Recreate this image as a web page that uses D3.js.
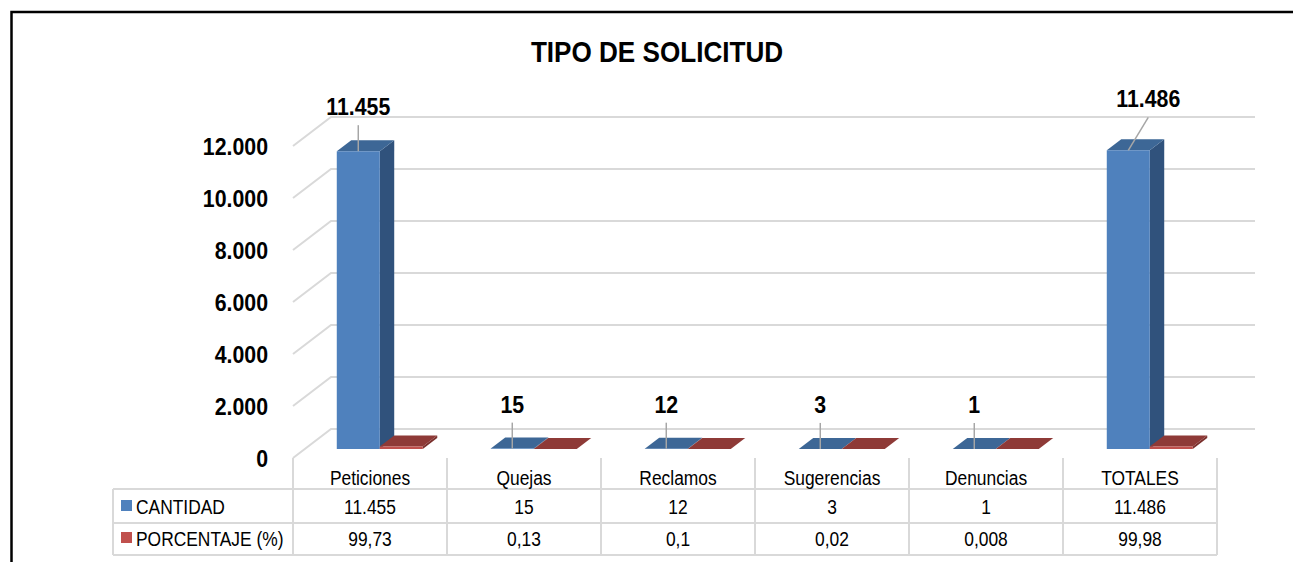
<!DOCTYPE html>
<html>
<head>
<meta charset="utf-8">
<script src="https://cdn.jsdelivr.net/npm/d3@7/dist/d3.min.js"></script>
<style>
  html, body { margin: 0; padding: 0; background: #fff; }
  svg { display: block; }
</style>
</head>
<body>
<div id="chart"></div>
<script>
/*
 * TIPO DE SOLICITUD — 3D clustered column chart with data table below.
 * Series: CANTIDAD (count) and PORCENTAJE (%) per request type.
 */

const TITLE = 'TIPO DE SOLICITUD';
const categories = ['Peticiones', 'Quejas', 'Reclamos', 'Sugerencias', 'Denuncias', 'TOTALES'];
const seriesNames = ['CANTIDAD', 'PORCENTAJE (%)'];
const cantidad = [11455, 15, 12, 3, 1, 11486];
const porcentaje = [99.73, 0.13, 0.1, 0.02, 0.008, 99.98];
const yTicks = [0, 2000, 4000, 6000, 8000, 10000, 12000];

const W = 1293, H = 562;
const FONT = '"Liberation Sans", Arial, sans-serif';
const NARROW = 0.87;   // horizontal squeeze to mimic Arial Narrow

// 3D projection: depth z in [0,1] shifts right/up
const DX = 38, DY = 29;
const Y0 = 458;              // screen y of value 0 on the front plane
const Z1 = 0.31, Z2 = 0.69;  // bar depth range

const palette = {
  CANTIDAD: { front: '#4F81BD', top: '#3D6796', side: '#30527C' },
  'PORCENTAJE (%)': { front: '#C0504D', top: '#8E3A37', side: '#7A302D' },
};

const svg = d3.select('#chart').append('svg')
  .attr('width', W).attr('height', H)
  .attr('viewBox', `0 0 ${W} ${H}`);

// narrow text helper: positioned by transform so the squeeze keeps the anchor
function ntext(parent, x, y, t, size, opts = {}) {
  return parent.append('text')
    .attr('transform', `translate(${x},${y}) scale(${NARROW},1)`)
    .attr('text-anchor', opts.anchor || 'middle')
    .attr('dy', opts.dy || null)
    .attr('font-family', FONT)
    .attr('font-weight', opts.bold ? 700 : 400)
    .attr('font-size', size)
    .attr('fill', '#000')
    .text(t);
}

// Outer frame (runs off the right and bottom edges)
svg.append('rect')
  .attr('x', 11.5).attr('y', 12).attr('width', 1400).attr('height', 700)
  .attr('fill', 'none').attr('stroke', '#000').attr('stroke-width', 2.5);

ntext(svg, 657, 62, TITLE, 30, { bold: true });

const x = d3.scaleBand().domain(categories).range([293, 1217]);
const xSub = d3.scaleBand().domain(seriesNames).range([32, 118]);
const y = d3.scaleLinear().domain([0, 12000]).range([0, 312]);

const proj = (xw, v, z) => [xw + z * DX, Y0 - y(v) - z * DY];
const poly = pts => 'M' + pts.map(p => p.join(',')).join('L') + 'Z';

const grid = svg.append('g');
const x0w = x.range()[0], x1w = x.range()[1];

// Back wall and side wall gridlines
yTicks.forEach(v => {
  const a = proj(x0w, v, 0), b = proj(x0w, v, 1), c = proj(x1w, v, 1);
  grid.append('path')
    .attr('d', `M${a}L${b}L${c}`)
    .attr('fill', 'none').attr('stroke', '#D9D9D9').attr('stroke-width', 2);
});

// Y-axis labels
const fmt = d3.formatLocale({ decimal: ',', thousands: '.', grouping: [3], currency: ['', ''] }).format(',d');
const yAxisG = svg.append('g');
yTicks.forEach(v => {
  ntext(yAxisG, 268, proj(0, v, 0)[1], fmt(v), 24.5, { bold: true, anchor: 'end', dy: '0.36em' });
});

// Bars
const bars = svg.append('g');
const rows = categories.map((c, i) => ({ c, vals: [cantidad[i], porcentaje[i]] }));
rows.forEach(r => {
  r.vals.forEach((v, k) => {
    const s = seriesNames[k];
    const xa = x(r.c) + xSub(s), xb = xa + xSub.bandwidth();
    const col = palette[s];
    bars.append('path')
      .attr('d', poly([proj(xb, 0, Z1), proj(xb, 0, Z2), proj(xb, v, Z2), proj(xb, v, Z1)]))
      .attr('fill', col.side);
    bars.append('path')
      .attr('d', poly([proj(xa, v, Z1), proj(xb, v, Z1), proj(xb, v, Z2), proj(xa, v, Z2)]))
      .attr('fill', col.top);
    bars.append('path')
      .attr('d', poly([proj(xa, 0, Z1), proj(xb, 0, Z1), proj(xb, v, Z1), proj(xa, v, Z1)]))
      .attr('fill', col.front);
  });
});

// Data labels (CANTIDAD) with leader lines
const labelNudge = { TOTALES: [20, -7] };
const labels = svg.append('g');
rows.forEach(r => {
  const v = r.vals[0];
  const xa = x(r.c) + xSub('CANTIDAD');
  const [cx, top] = proj(xa + xSub.bandwidth() / 2, v, Z1);
  const [ndx, ndy] = labelNudge[r.c] || [0, 0];
  const base = top - 36 + ndy;
  labels.append('line')
    .attr('x1', cx + ndx).attr('y1', base + 10)
    .attr('x2', cx).attr('y2', top)
    .attr('stroke', '#A6A6A6').attr('stroke-width', 1.5);
  ntext(labels, cx + ndx, base, fmt(v), 24.5, { bold: true });
});

// Data table
const tbl = svg.append('g');
const rowY = [458, 489, 523, 555];
const tLeft = 113, tRight = x1w;
const gridStroke = sel => sel.attr('stroke', '#D9D9D9').attr('stroke-width', 2);

[rowY[1], rowY[2], rowY[3]].forEach(yy => {
  tbl.append('line').attr('x1', tLeft).attr('x2', tRight).attr('y1', yy).attr('y2', yy).call(gridStroke);
});
tbl.append('line').attr('x1', tLeft).attr('x2', tLeft).attr('y1', rowY[1]).attr('y2', rowY[3]).call(gridStroke);
categories.forEach(c => {
  tbl.append('line').attr('x1', x(c)).attr('x2', x(c)).attr('y1', rowY[0]).attr('y2', rowY[3]).call(gridStroke);
});
tbl.append('line').attr('x1', tRight).attr('x2', tRight).attr('y1', rowY[0]).attr('y2', rowY[3]).call(gridStroke);

const pctFmt = v => String(v).replace('.', ',');
categories.forEach((c, i) => {
  const cx = x(c) + x.bandwidth() / 2;
  ntext(tbl, cx, 485, c, 20);
  ntext(tbl, cx, 514, fmt(cantidad[i]), 20);
  ntext(tbl, cx, 546, pctFmt(porcentaje[i]), 20);
});

seriesNames.forEach((s, k) => {
  const yy = k === 0 ? 514 : 546;
  tbl.append('rect')
    .attr('x', 121).attr('y', yy - 14).attr('width', 11).attr('height', 11)
    .attr('fill', palette[s].front);
  ntext(tbl, 136, yy, s, 20, { anchor: 'start' });
});
</script>
</body>
</html>
